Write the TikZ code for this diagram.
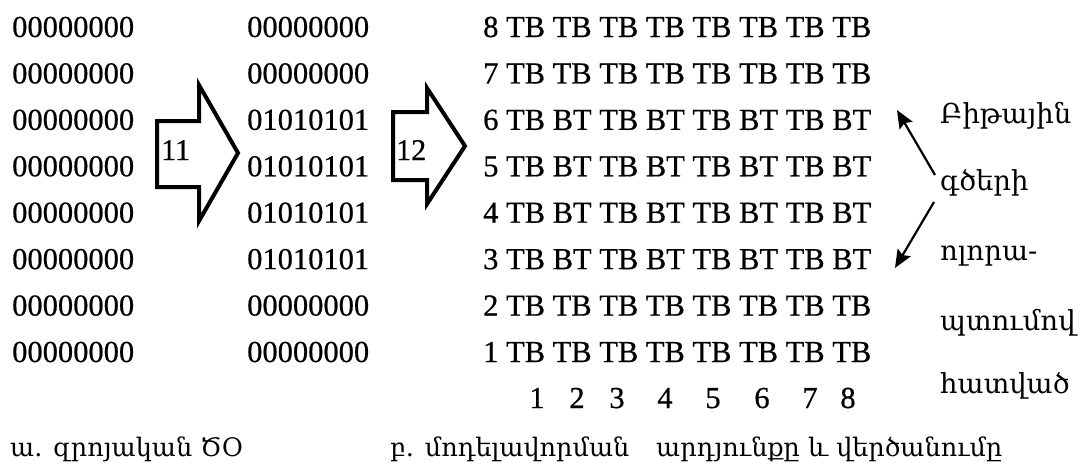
\documentclass[tikz,border=0pt]{standalone}
\usepackage{fontspec}
\setmainfont[FakeBold=0.6]{Liberation Serif}
\newfontfamily\armfont{DejaVu Serif}
\usetikzlibrary{arrows.meta}
\begin{document}
\begin{tikzpicture}[x=1pt,y=-1pt,
  bits/.style={anchor=base west,inner sep=0pt,font=\fontsize{30.5}{36}\selectfont},
  colnum/.style={anchor=base,inner sep=0pt,font=\fontsize{30.5}{36}\selectfont},
  arm/.style={anchor=base west,inner sep=0pt,font=\armfont\fontsize{27.5}{30}\selectfont},
  caption/.style={anchor=base west,inner sep=0pt,font=\armfont\fontsize{25.5}{30}\selectfont},
  bigarrow/.style={draw=black,line width=4pt,line join=miter,fill=white},
  steplabel/.style={anchor=base west,inner sep=0pt,font=\fontsize{30}{36}\selectfont},
  pointer/.style={draw=black,line width=2.2pt,-{Stealth[length=18pt,width=15pt,inset=3pt]}}]
\useasboundingbox (0,0) rectangle (1086,464);

% column a: all-zero memory
\foreach \r [count=\i from 0] in {00000000,00000000,00000000,00000000,00000000,00000000,00000000,00000000}
  \node[bits] (a\i) at (12,{37+\i*46.43}) {\r};

% column b: modelling pattern
\foreach \r [count=\i from 0] in {00000000,00000000,01010101,01010101,01010101,01010101,00000000,00000000}
  \node[bits] (b\i) at (247,{37+\i*46.43}) {\r};

% column c: result rows 8..1
\foreach \r [count=\i from 0] in {
  8 TB TB TB TB TB TB TB TB,
  7 TB TB TB TB TB TB TB TB,
  6 TB BT TB BT TB BT TB BT,
  5 TB BT TB BT TB BT TB BT,
  4 TB BT TB BT TB BT TB BT,
  3 TB BT TB BT TB BT TB BT,
  2 TB TB TB TB TB TB TB TB,
  1 TB TB TB TB TB TB TB TB}
  \node[bits] (c\i) at (483,{37+\i*46.43}) {\r};

% column numbers
\foreach \x [count=\k] in {537,577,617,665,713,762,810,848}
  \node[colnum] (n\k) at (\x,408) {\k};

% block arrows between the columns
\draw[bigarrow] (157,121) -- (199,121) -- (199,85) -- (238,153) -- (199,221)
  -- (199,187) -- (157,187) -- cycle;
\node[steplabel] (s11) at (161,160) {11};
\draw[bigarrow] (393,112) -- (427,112) -- (427,88) -- (465,146) -- (427,204)
  -- (427,180) -- (393,180) -- cycle;
\node[steplabel] (s12) at (396,160) {12};

% side note with its two pointers
\node[arm] (t1) at (940,123) {Բիթային};
\node[arm] (t2) at (940,190) {գծերի};
\node[arm] (t3) at (940,260) {ոլորա-};
\node[arm] (t4) at (940,330) {պտումով};
\node[arm] (t5) at (940,393) {հատված};
\coordinate (p1) at (935,175);
\coordinate (p2) at (934,202);
\coordinate (h1) at (897,110);
\coordinate (h2) at (895,268);
\draw[pointer] (p1) -- (h1);
\draw[pointer] (p2) -- (h2);

% captions
\node[caption] (ca) at (10,456) {ա. զրոյական ԾՕ};
\node[caption] (cb) at (390,456) {բ. մոդելավորման};
\node[caption] (cc) at (656,456) {արդյունքը և վերծանումը};
\end{tikzpicture}
\end{document}
